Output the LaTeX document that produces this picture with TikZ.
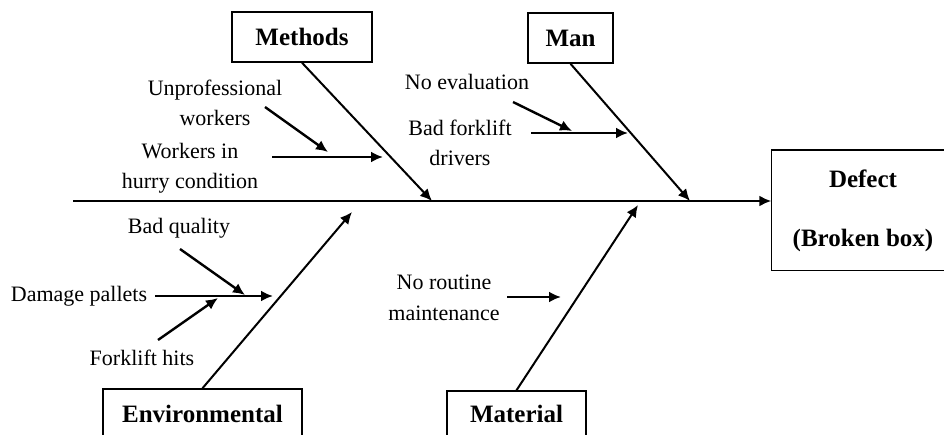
\documentclass[tikz,border=0pt]{standalone}
\usepackage{fontspec}
\setmainfont{Liberation Serif}
\usetikzlibrary{positioning,arrows.meta}

\begin{document}
\begin{tikzpicture}[x=1pt,y=-1pt,>={Latex[length=12pt,width=11pt]},line width=2pt]
\tikzset{
  cat/.style={rectangle, draw, line width=1.5pt, align=center, inner sep=0pt,
    font=\fontsize{25}{30}\selectfont\bfseries},
  cause/.style={align=center, inner sep=1pt, font=\fontsize{22}{30}\selectfont},
  bone/.style={->, line width=2pt},
  twig/.style={->, line width=2.4pt}
}
\useasboundingbox (0,0) rectangle (944,435);
\clip (0,0) rectangle (944,435);

% Nodes (category boxes and the effect)
\node[cat, minimum width=140pt, minimum height=50pt] (methods) at (302,37) {Methods};
\node[cat, minimum width=85pt, minimum height=50pt] (man) at (570.5,38) {Man};
\node[cat, minimum width=199pt, minimum height=50pt] (env) at (202.5,414) {Environmental};
\node[cat, minimum width=139pt, minimum height=46pt] (material) at (516.5,414) {Material};
\node[cat, draw=none, minimum width=182pt, minimum height=119pt,
  font=\fontsize{25}{59}\selectfont\bfseries] (defect) at (863,210.5) {Defect\\(Broken box)};
% box runs off the right edge of the page
\draw[line width=1.5pt] (defect.north west) rectangle ([xshift=40pt]defect.south east);

% Causes
\node[cause] (unprof) at (215,103) {Unprofessional\\workers};
\node[cause] (hurry) at (190,168) {Workers in\\hurry condition};
\node[cause] (noeval) at (467,82) {No evaluation};
\node[cause] (badfork) at (460,143) {Bad forklift\\drivers};
\node[cause] (badq) at (179,228) {Bad quality};
\node[cause] (damage) at (79,296) {Damage pallets};
\node[cause] (fhits) at (142,358) {Forklift hits};
\node[cause, font=\fontsize{22}{31}\selectfont] (noroutine) at (444,298) {No routine\\maintenance};

% Points on the spine and bones
\coordinate (tail) at (73,201);
\coordinate (head) at (defect.west |- tail);
\coordinate (mt) at (432,201);
\coordinate (mn) at (690,201);
\coordinate (et) at (352,212);
\coordinate (mat) at (638,205);
\coordinate (u1) at (265,107);  \coordinate (u2) at (328,152);
\coordinate (h1) at (272,157);  \coordinate (h2) at (383,157);
\coordinate (n1) at (513,102);  \coordinate (n2) at (572,131);
\coordinate (b1) at (531,133);  \coordinate (b2) at (628,133);
\coordinate (q1) at (180,249);  \coordinate (q2) at (245,295);
\coordinate (d1) at (155,296);  \coordinate (d2) at (273,296);
\coordinate (f1) at (158,340);  \coordinate (f2) at (218,298);
\coordinate (r1) at (507,297);  \coordinate (r2) at (561,297);

% Arrows
\draw[bone] (tail) -- (head);
\draw[bone] (methods.south) -- (mt);
\draw[bone] (man.south) -- (mn);
\draw[bone] (env.north) -- (et);
\draw[bone] (material.north) -- (mat);

\draw[twig] (u1) -- (u2);
\draw[twig] (h1) -- (h2);
\draw[twig] (n1) -- (n2);
\draw[twig] (b1) -- (b2);
\draw[twig] (q1) -- (q2);
\draw[twig] (d1) -- (d2);
\draw[twig] (f1) -- (f2);
\draw[twig] (r1) -- (r2);
\end{tikzpicture}
\end{document}
